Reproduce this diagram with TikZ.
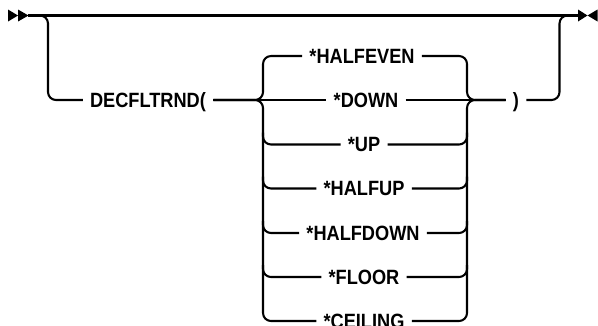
\documentclass[tikz,border=0pt]{standalone}
\usepackage{fontspec}
\newfontfamily\diagfont[FakeStretch=0.88]{Liberation Sans}
\tikzset{
  rail/.style={line width=1.55pt, line cap=butt, rounded corners=6pt},
  tip/.style={fill=black, draw=none},
  lbl/.style={inner xsep=5.5pt, inner ysep=0pt, outer sep=0pt,
    text height=11.2pt, text depth=0pt,
    font=\diagfont\bfseries\fontsize{15.5pt}{18pt}\selectfont},
}
\begin{document}
\begin{tikzpicture}[x=0.75pt,y=-0.75pt]
\useasboundingbox (0,0) rectangle (598,325);
\clip (0,0) rectangle (598,325);
% rows
\def\rA{56}\def\rB{100}\def\rC{144.5}\def\rD{188.5}\def\rE{233}\def\rF{277}\def\rG{321}
% start and end markers
\fill[tip] (8,9.5) -- (18,15.5) -- (8,21.5) -- cycle;
\fill[tip] (18,9.5) -- (28.5,15.5) -- (18,21.5) -- cycle;
\fill[tip] (578,9.5) -- (587.5,15.5) -- (578,21.5) -- cycle;
\fill[tip] (597.5,9.5) -- (587.5,15.5) -- (597.5,21.5) -- cycle;
\coordinate (s) at (28,15.5);
\coordinate (e) at (578.5,15.5);
% nodes
\node[lbl] (dec) at (148,\rB) {DECFLTRND(};
\node[lbl] (he) at (362,\rA) {*HALFEVEN};
\node[lbl] (dn) at (366,\rB) {*DOWN};
\node[lbl] (up) at (364,\rC) {*UP};
\node[lbl] (hu) at (364,\rD) {*HALFUP};
\node[lbl] (hd) at (363,\rE) {*HALFDOWN};
\node[lbl] (fl) at (364,\rF) {*FLOOR};
\node[lbl] (ce) at (364,\rG) {*CEILING};
\node[lbl] (rp) at (516,\rB) {)};
% main line
\draw[rail] (s) -- (e);
% optional branch
\draw[rail] (s) -- (48,15.5) -- (48,\rB) -- (dec.west);
% left brace
\draw[rail] (dec.east) -- (263,\rB) -- (263,\rA) -- (he.west);
\draw[rail] (dec.east) -- (263,\rB) -- (263,\rG) -- (ce.west);
\draw[rail] (dec.east) -- (dn.west);
\foreach \n/\r in {up/\rC,hu/\rD,hd/\rE,fl/\rF}
  \draw[rail] (263,\r-12) -- (263,\r) -- (\n.west);
% right brace
\draw[rail] (he.east) -- (467,\rA) -- (467,\rB) -- (rp.west);
\draw[rail] (ce.east) -- (467,\rG) -- (467,\rB) -- (rp.west);
\draw[rail] (dn.east) -- (rp.west);
\foreach \n/\r in {up/\rC,hu/\rD,hd/\rE,fl/\rF}
  \draw[rail] (\n.east) -- (467,\r) -- (467,\r-12);
% return to main line
\draw[rail] (rp.east) -- (559.5,\rB) -- (559.5,15.5) -- (e);
\end{tikzpicture}
\end{document}
